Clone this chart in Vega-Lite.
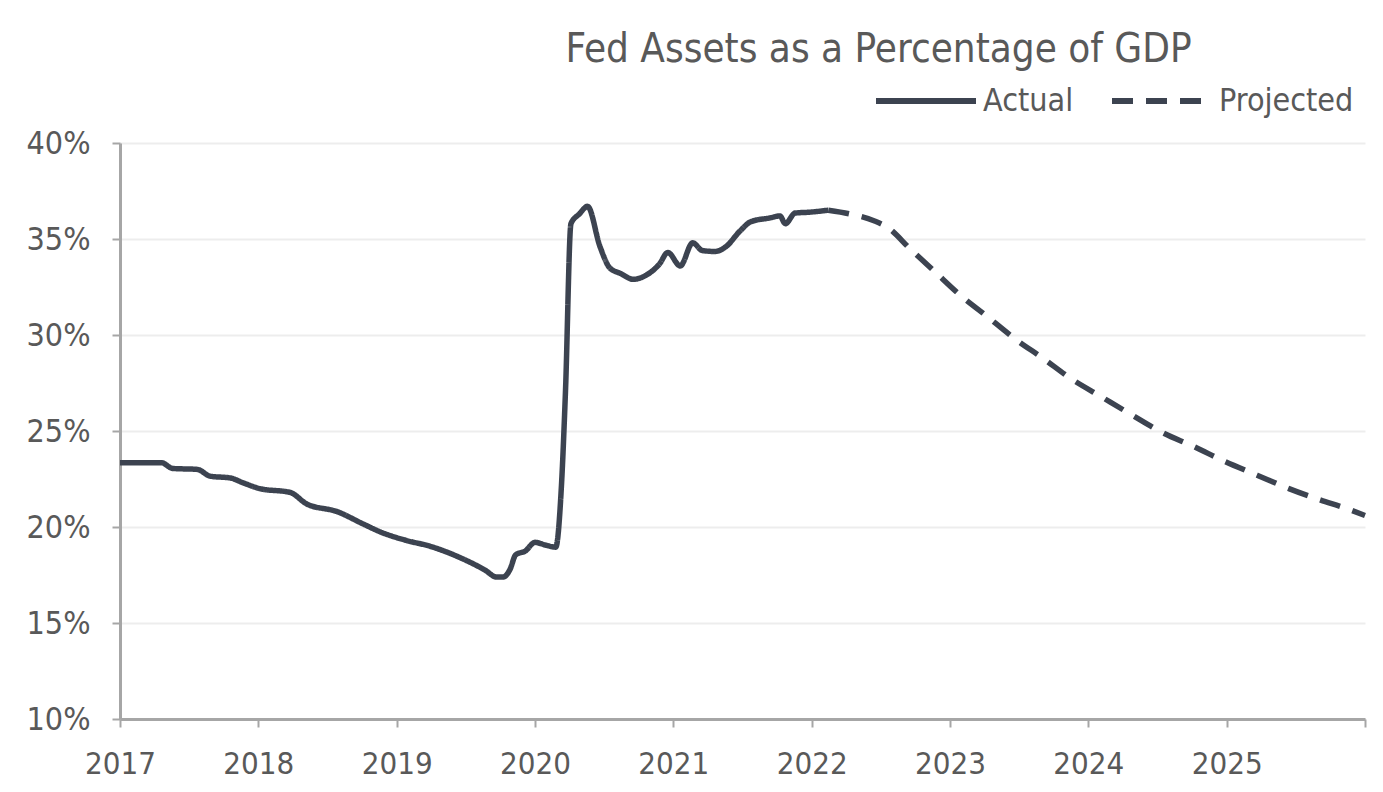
{
  "$schema": "https://vega.github.io/schema/vega-lite/v6.json",
  "width": 1245,
  "height": 576,
  "autosize": {"type": "none"},
  "padding": {"left": 120, "top": 143, "right": 18, "bottom": 73},
  "background": "white",
  "title": {
    "text": "Fed Assets as a Percentage of GDP",
    "font": "Liberation Sans Narrow, DejaVu Sans Condensed, sans-serif",
    "fontSize": 40,
    "fontWeight": "normal",
    "color": "#595959",
    "anchor": "middle",
    "frame": "group",
    "dx": 136,
    "dy": 44,
    "offset": 22
  },
  "config": {
    "view": {"stroke": null},
    "font": "Liberation Sans Narrow, DejaVu Sans Condensed, sans-serif"
  },
  "data": {
    "values": [
      {"t": 2017.0, "v": 23.35, "series": "Actual"},
      {"t": 2017.3, "v": 23.35, "series": "Actual"},
      {"t": 2017.38, "v": 23.05, "series": "Actual"},
      {"t": 2017.56, "v": 23.0, "series": "Actual"},
      {"t": 2017.65, "v": 22.65, "series": "Actual"},
      {"t": 2017.8, "v": 22.55, "series": "Actual"},
      {"t": 2017.89, "v": 22.3, "series": "Actual"},
      {"t": 2018.01, "v": 22.0, "series": "Actual"},
      {"t": 2018.23, "v": 21.8, "series": "Actual"},
      {"t": 2018.35, "v": 21.2, "series": "Actual"},
      {"t": 2018.57, "v": 20.8, "series": "Actual"},
      {"t": 2018.76, "v": 20.15, "series": "Actual"},
      {"t": 2018.88, "v": 19.75, "series": "Actual"},
      {"t": 2019.07, "v": 19.3, "series": "Actual"},
      {"t": 2019.24, "v": 19.0, "series": "Actual"},
      {"t": 2019.46, "v": 18.4, "series": "Actual"},
      {"t": 2019.64, "v": 17.75, "series": "Actual"},
      {"t": 2019.72, "v": 17.4, "series": "Actual"},
      {"t": 2019.77, "v": 17.4, "series": "Actual"},
      {"t": 2019.82, "v": 17.8, "series": "Actual"},
      {"t": 2019.86, "v": 18.55, "series": "Actual"},
      {"t": 2019.93, "v": 18.75, "series": "Actual"},
      {"t": 2020.0, "v": 19.2, "series": "Actual"},
      {"t": 2020.08, "v": 19.05, "series": "Actual"},
      {"t": 2020.15, "v": 18.95, "series": "Actual"},
      {"t": 2020.19, "v": 22.0, "series": "Actual"},
      {"t": 2020.22, "v": 27.0, "series": "Actual"},
      {"t": 2020.26, "v": 35.8, "series": "Actual"},
      {"t": 2020.32, "v": 36.3, "series": "Actual"},
      {"t": 2020.38, "v": 36.7, "series": "Actual"},
      {"t": 2020.47, "v": 34.6, "series": "Actual"},
      {"t": 2020.54, "v": 33.5, "series": "Actual"},
      {"t": 2020.62, "v": 33.2, "series": "Actual"},
      {"t": 2020.71, "v": 32.9, "series": "Actual"},
      {"t": 2020.8, "v": 33.1, "series": "Actual"},
      {"t": 2020.9, "v": 33.7, "series": "Actual"},
      {"t": 2020.96, "v": 34.3, "series": "Actual"},
      {"t": 2021.05, "v": 33.6, "series": "Actual"},
      {"t": 2021.14, "v": 34.8, "series": "Actual"},
      {"t": 2021.21, "v": 34.4, "series": "Actual"},
      {"t": 2021.3, "v": 34.35, "series": "Actual"},
      {"t": 2021.38, "v": 34.6, "series": "Actual"},
      {"t": 2021.48, "v": 35.4, "series": "Actual"},
      {"t": 2021.56, "v": 35.9, "series": "Actual"},
      {"t": 2021.7, "v": 36.1, "series": "Actual"},
      {"t": 2021.77, "v": 36.2, "series": "Actual"},
      {"t": 2021.81, "v": 35.8, "series": "Actual"},
      {"t": 2021.88, "v": 36.35, "series": "Actual"},
      {"t": 2021.99, "v": 36.4, "series": "Actual"},
      {"t": 2022.12, "v": 36.5, "series": "Actual"},
      {"t": 2022.12, "v": 36.5, "series": "Projected"},
      {"t": 2022.28, "v": 36.3, "series": "Projected"},
      {"t": 2022.45, "v": 35.95, "series": "Projected"},
      {"t": 2022.55, "v": 35.6, "series": "Projected"},
      {"t": 2022.71, "v": 34.5, "series": "Projected"},
      {"t": 2022.89, "v": 33.3, "series": "Projected"},
      {"t": 2023.07, "v": 32.1, "series": "Projected"},
      {"t": 2023.28, "v": 30.9, "series": "Projected"},
      {"t": 2023.47, "v": 29.8, "series": "Projected"},
      {"t": 2023.67, "v": 28.8, "series": "Projected"},
      {"t": 2023.88, "v": 27.7, "series": "Projected"},
      {"t": 2024.09, "v": 26.8, "series": "Projected"},
      {"t": 2024.3, "v": 25.9, "series": "Projected"},
      {"t": 2024.54, "v": 24.9, "series": "Projected"},
      {"t": 2024.76, "v": 24.2, "series": "Projected"},
      {"t": 2024.99, "v": 23.4, "series": "Projected"},
      {"t": 2025.22, "v": 22.7, "series": "Projected"},
      {"t": 2025.45, "v": 22.0, "series": "Projected"},
      {"t": 2025.68, "v": 21.4, "series": "Projected"},
      {"t": 2025.85, "v": 21.0, "series": "Projected"},
      {"t": 2026.0, "v": 20.6, "series": "Projected"}
    ]
  },
  "mark": {"type": "line", "strokeWidth": 5.5, "color": "#3c4350", "interpolate": "monotone", "strokeCap": "butt"},
  "encoding": {
    "x": {
      "field": "t",
      "type": "quantitative",
      "scale": {"domain": [2017, 2026], "nice": false, "zero": false},
      "axis": {
        "title": null,
        "values": [2017, 2018, 2019, 2020, 2021, 2022, 2023, 2024, 2025, 2026],
        "format": "d",
        "labelExpr": "datum.value == 2026 ? '' : datum.label",
        "grid": false,
        "domainColor": "#a6a6a6",
        "domainWidth": 3,
        "tickColor": "#a6a6a6",
        "tickWidth": 2,
        "tickSize": 8,
        "labelFontSize": 31,
        "labelColor": "#595959",
        "labelPadding": 22,
        "labelFlush": false
      }
    },
    "y": {
      "field": "v",
      "type": "quantitative",
      "scale": {"domain": [10, 40], "nice": false, "zero": false},
      "axis": {
        "title": null,
        "values": [10, 15, 20, 25, 30, 35, 40],
        "labelExpr": "datum.value + '%'",
        "grid": true,
        "gridColor": "#ededed",
        "gridWidth": 2,
        "domainColor": "#a6a6a6",
        "domainWidth": 3,
        "tickColor": "#a6a6a6",
        "tickWidth": 2,
        "tickSize": 8,
        "labelFontSize": 32,
        "labelColor": "#595959",
        "labelPadding": 22
      }
    },
    "strokeDash": {
      "field": "series",
      "type": "nominal",
      "scale": {"domain": ["Actual", "Projected"], "range": [[1, 0], [21, 13]]},
      "legend": {
        "title": null,
        "orient": "none",
        "legendX": 753,
        "legendY": -95,
        "direction": "horizontal",
        "symbolType": "stroke",
        "symbolSize": 10000,
        "symbolStrokeWidth": 6,
        "symbolStrokeColor": "#3c4350",
        "labelFontSize": 32,
        "labelColor": "#595959",
        "labelOffset": 4,
        "columnPadding": 26
      }
    }
  }
}
